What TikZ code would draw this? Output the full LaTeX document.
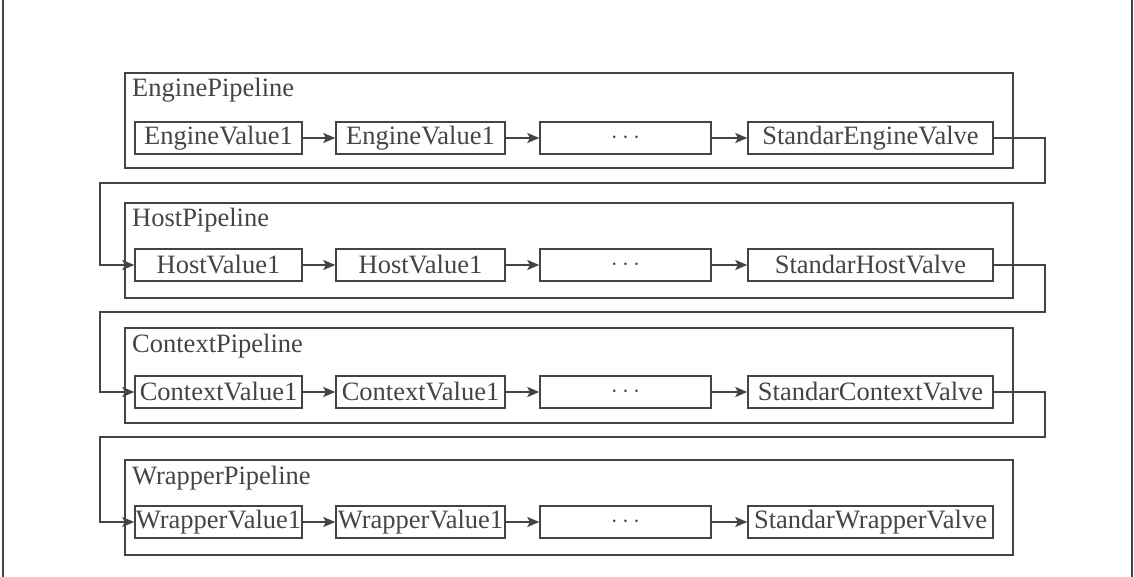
\documentclass[tikz,border=0pt]{standalone}
\usepackage{fontspec}
\setmainfont{Liberation Serif}
\usetikzlibrary{arrows.meta}
\definecolor{inkgray}{RGB}{68,68,68}
\tikzset{
	pipebox/.style={draw=inkgray, line width=1.4pt, minimum width=888pt, minimum height=95pt, inner sep=0pt},
	valvebox/.style={draw=inkgray, line width=1.4pt, minimum height=32pt, inner sep=1pt, text=inkgray, font=\fontsize{26.5}{26.5}\selectfont},
	pipetitle/.style={anchor=base west, inner sep=0pt, text=inkgray, font=\fontsize{26.5}{26.5}\selectfont},
	link/.style={draw=inkgray, line width=1.4pt, -{Stealth[length=12pt,width=10pt,inset=2.5pt]}},
}

\begin{document}
\begin{tikzpicture}[x=1pt,y=-1pt]
		\useasboundingbox (0,0) rectangle (1134,577);
		\draw[inkgray, line width=2pt] (3,0) -- (3,577); % left frame
		\draw[inkgray, line width=2pt] (1132,0) -- (1132,577); % right frame
		
		% one pipeline per row: name/word/top/row/return line
		\foreach \name/\word/\ptop/\prow/\pret in {eng/Engine/73/138/0, host/Host/203/265/183, ctx/Context/328/392/312, wrap/Wrapper/460/522/437} {
			\node[pipebox] (\name P) at (569,\ptop+47.5) {};
			\node[pipetitle] (\name T) at (132,\ptop+24) {\word Pipeline};
			\node[valvebox, minimum width=167pt] (\name1) at (218.5,\prow) {\word Value1};
			\node[valvebox, minimum width=169pt] (\name2) at (420.5,\prow) {\word Value1};
			\node[valvebox, minimum width=171pt] (\name3) at (625.5,\prow) {$\cdots$};
			\node[valvebox, minimum width=245pt] (\name4) at (870.5,\prow) {Standar\word Valve};
			\coordinate (\name R) at (1045,\pret);
			\coordinate (\name L) at (100,\pret);
			\draw[link] (\name1) -- (\name2);
			\draw[link] (\name2) -- (\name3);
			\draw[link] (\name3) -- (\name4);
		}
		
		% hand over to the next pipeline
		\foreach \a/\b in {eng/host, host/ctx, ctx/wrap}
			\draw[link] (\a4.east) -| (\b R) -- (\b L) |- (\b1.west);
		
	\end{tikzpicture}
\end{document}
